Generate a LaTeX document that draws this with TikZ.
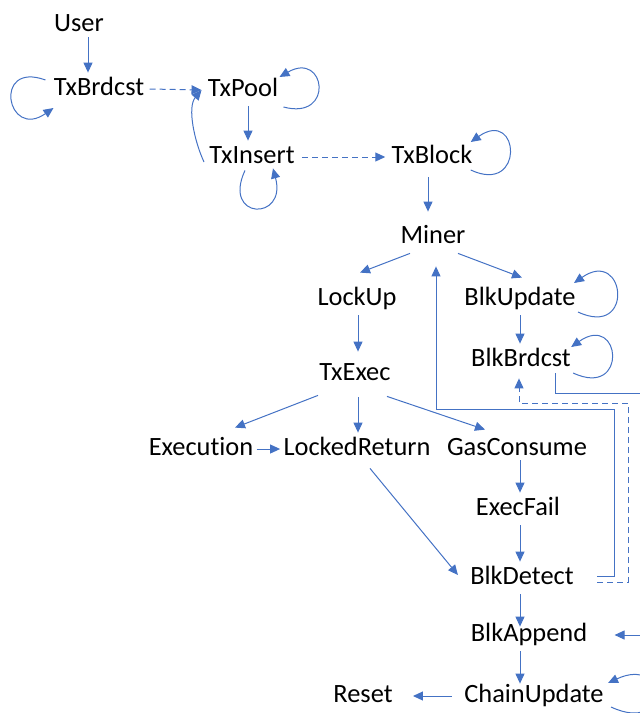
\documentclass[tikz,border=0pt]{standalone}
\usepackage{fontspec}
\setmainfont{Carlito}[Ligatures=NoCommon]
\usetikzlibrary{arrows.meta}
\definecolor{lien}{RGB}{68,114,196}
\tikzset{
  etat/.style = {align=center, inner xsep=1.5pt, inner ysep=2pt,
    text height=9pt, text depth=3pt, font=\fontsize{13.2}{15}\selectfont},% etat du flot
  fl/.style = {->, draw=lien, line width=0.5pt},% fleche pleine
  fl_d/.style = {fl, dash pattern=on 3pt off 2pt}% fleche tiretee
}
\begin{document}
\begin{tikzpicture}[x=0.5pt, y=0.5pt, >={Triangle[length=5pt,width=4.5pt]}]
\useasboundingbox (0,0) rectangle (640,-713);
\clip (0,0) rectangle (640,-713);

\node [etat] (user)  at (79,-25)  {User};
\node [etat] (brd)   at (99,-89)  {TxBrdcst};
\node [etat] (pool)  at (243,-90) {TxPool};
\node [etat] (ins)   at (252,-157) {TxInsert};
\node [etat] (blk)   at (432,-157) {TxBlock};
\node [etat] (miner) at (433,-237) {Miner};
\node [etat] (lock)  at (357,-299) {LockUp};
\node [etat] (bupd)  at (520,-299) {BlkUpdate};
\node [etat] (bcst)  at (521,-360) {BlkBrdcst};
\node [etat] (txex)  at (355,-374) {TxExec};
\node [etat] (exec)  at (201,-449) {Execution};
\node [etat] (lret)  at (357,-449) {LockedReturn};
\node [etat] (gas)   at (517,-449) {GasConsume};
\node [etat] (fail)  at (518,-509) {ExecFail};
\node [etat] (det)   at (522,-578) {BlkDetect};
\node [etat] (app)   at (529,-635) {BlkAppend};
\node [etat] (chain) at (534,-696) {ChainUpdate};
\node [etat] (reset) at (363,-696) {Reset};

% transactions
\draw [fl] ([shift={(9,4)}]user.south) -- ([shift={(-11,0)}]brd.north);
\draw [fl_d] ([shift={(2,0)}]brd.east) -- ([shift={(-3,0)}]pool.west);
\draw [fl] ([shift={(5,0)}]pool.south) -- ([shift={(-4,0)}]ins.north);
\draw [fl] ([shift={(-2,-5)}]ins.west) to[out=115,in=230,looseness=0.8] ([shift={(-3,0)}]pool.west);
\draw [fl_d] ([shift={(4,0)}]ins.east) -- ([shift={(-3,0)}]blk.west);
\draw [fl] ([shift={(-4,-4)}]blk.south) -- ([shift={(-5,9)}]miner.north);
% boucles
\draw [fl] ([shift={(-5,9)}]brd.west) to[out=160,in=215,looseness=5] ([shift={(3,-19)}]brd.west);
\draw [fl] ([shift={(2,-17)}]pool.east) to[out=-15,in=30,looseness=4.5] ([shift={(-2,13)}]pool.east);
\draw [fl] ([shift={(-7,3)}]ins.south) to[out=245,in=285,looseness=5] ([shift={(21,5)}]ins.south);
\draw [fl] ([shift={(-5,-13)}]blk.east) to[out=-25,in=35,looseness=5.5] ([shift={(-5,15)}]blk.east);
\draw [fl] ([shift={(-1,-13)}]bupd.east) to[out=-25,in=35,looseness=5.5] ([shift={(-5,16)}]bupd.east);
\draw [fl] ([shift={(-1,-13)}]bcst.east) to[out=-25,in=35,looseness=6] ([shift={(-3,13)}]bcst.east);
\draw [fl] ([shift={(4,-11)}]chain.east) to[out=-25,in=25,looseness=7] ([shift={(1,13)}]chain.east);

% mineur
\draw [fl] ([shift={(-23,0)}]miner.south) -- ([shift={(3,10)}]lock.north);
\draw [fl] ([shift={(25,0)}]miner.south) -- ([shift={(2,5)}]bupd.north);
\draw [fl] (bupd.south) -- ([shift={(-1,0)}]bcst.north);
\draw [fl] ([shift={(1,0)}]lock.south) -- ([shift={(3,6)}]txex.north);
\draw [fl] ([shift={(-37,-5)}]txex.south) -- ([shift={(34,5)}]exec.north);
\draw [fl] ([shift={(3,-7)}]txex.south) -- ([shift={(1,0)}]lret.north);
\draw [fl] ([shift={(32,-6)}]txex.south) -- ([shift={(-32,3)}]gas.north);
\draw [fl] (exec.east) -- (lret.west);
\draw [fl] ([shift={(13,-3)}]lret.south) -- ([shift={(-9,3)}]det.west);
\draw [fl] ([shift={(3,5)}]gas.south) -- ([shift={(2,0)}]fail.north);
\draw [fl] ([shift={(2,0)}]fail.south) -- ([shift={(-2,0)}]det.north);
\draw [fl] ([shift={(-2,0)}]det.south) -- ([shift={(-9,-8)}]app.north);
\draw [fl] ([shift={(-9,0)}]app.south) -- ([shift={(-14,-4)}]chain.north);
\draw [fl] ([shift={(-9,0)}]chain.west) -- ([shift={(17,0)}]reset.east);

% retours
\draw [fl] ([shift={(20,2)}]det.east) -- ++(17,0) |- ([shift={(3,-156)}]miner.south)
  -- ([shift={(3,-13)}]miner.south);
\draw [fl_d] ([shift={(20,-4)}]det.east) -- ++(31,0) |- ([shift={(-2,-27)}]bcst.south)
  -- ([shift={(-2,-2)}]bcst.south);
\draw [fl] ([shift={(34,3)}]bcst.south) -- ++(0,-20) -- ++(105,0) |- ([shift={(24,0)}]app.east);
\end{tikzpicture}
\end{document}
